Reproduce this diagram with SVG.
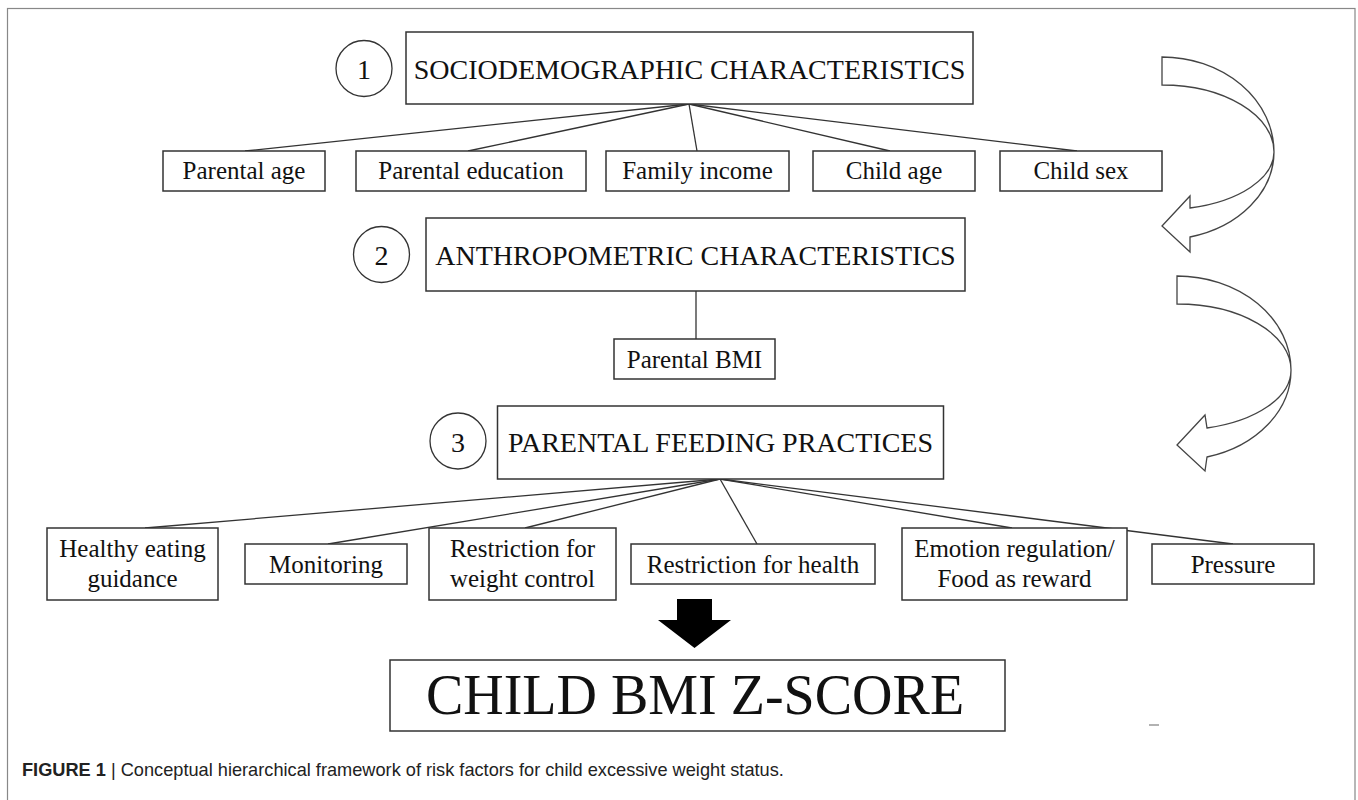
<svg xmlns="http://www.w3.org/2000/svg" width="1358" height="800" viewBox="0 0 1358 800">
<style>
.box{fill:#fff;stroke:#333;stroke-width:1.5}
.circ{fill:#fff;stroke:#333;stroke-width:1.3}
.conn line{stroke:#333;stroke-width:1.3}
.curve{fill:#fff;stroke:#444;stroke-width:1.3;stroke-linejoin:miter}
.t{font-family:"Liberation Serif","Times New Roman",serif;fill:#111;text-anchor:middle}
.big{font-size:28px}
.med{font-size:25px}
.huge{font-size:56px}
.cap{font-family:"Liberation Sans",Arial,sans-serif;font-size:18.2px;fill:#222}
</style>
<rect x="7.5" y="8.5" width="1347.5" height="795" fill="#fff" stroke="#888" stroke-width="1.2"/>
<g id="connectors" class="conn">
<line x1="689" y1="104" x2="245" y2="151"/>
<line x1="689" y1="104" x2="468" y2="151"/>
<line x1="689" y1="104" x2="697" y2="151"/>
<line x1="689" y1="104" x2="890" y2="151"/>
<line x1="689" y1="104" x2="1077" y2="151"/>
<line x1="696" y1="291" x2="696" y2="339"/>
<line x1="720" y1="479" x2="145" y2="528"/>
<line x1="720" y1="479" x2="328" y2="544"/>
<line x1="720" y1="479" x2="525" y2="528"/>
<line x1="720" y1="479" x2="757" y2="544"/>
<line x1="720" y1="479" x2="1012" y2="528"/>
<line x1="720" y1="479" x2="1233" y2="544"/>
</g>
<g id="step1">
<circle class="circ" cx="364" cy="68.5" r="28"/>
<text class="t big" x="364" y="79">1</text>
</g>
<g id="sociodemographic">
<rect class="box" x="406" y="32" width="567" height="72"/>
<text class="t big" x="689.5" y="78.5">SOCIODEMOGRAPHIC CHARACTERISTICS</text>
</g>
<g id="parental-age"><rect class="box" x="163" y="151" width="162" height="40"/><text class="t med" x="244" y="178.5">Parental age</text></g>
<g id="parental-education"><rect class="box" x="356" y="151" width="230" height="40"/><text class="t med" x="471" y="178.5">Parental education</text></g>
<g id="family-income"><rect class="box" x="606" y="151" width="183" height="40"/><text class="t med" x="697.5" y="178.5">Family income</text></g>
<g id="child-age"><rect class="box" x="813" y="151" width="162" height="40"/><text class="t med" x="894" y="178.5">Child age</text></g>
<g id="child-sex"><rect class="box" x="1000" y="151" width="162" height="40"/><text class="t med" x="1081" y="178.5">Child sex</text></g>
<g id="step2">
<circle class="circ" cx="381.5" cy="254.5" r="28"/>
<text class="t big" x="381.5" y="265">2</text>
</g>
<g id="anthropometric">
<rect class="box" x="426" y="218" width="539" height="73"/>
<text class="t big" x="695.5" y="265">ANTHROPOMETRIC CHARACTERISTICS</text>
</g>
<g id="parental-bmi"><rect class="box" x="614" y="339" width="161" height="40"/><text class="t med" x="694.5" y="368">Parental BMI</text></g>
<g id="step3">
<circle class="circ" cx="458" cy="441" r="28"/>
<text class="t big" x="458" y="451.5">3</text>
</g>
<g id="feeding-practices">
<rect class="box" x="497.5" y="406" width="446" height="73"/>
<text class="t big" x="720.5" y="452">PARENTAL FEEDING PRACTICES</text>
</g>
<g id="healthy-eating"><rect class="box" x="47" y="528" width="171" height="72"/><text class="t med" x="132.5" y="557">Healthy eating</text><text class="t med" x="132.5" y="587">guidance</text></g>
<g id="monitoring"><rect class="box" x="245" y="544" width="162" height="40"/><text class="t med" x="326" y="572.5">Monitoring</text></g>
<g id="restriction-weight"><rect class="box" x="429" y="528" width="187" height="72"/><text class="t med" x="522.5" y="557">Restriction for</text><text class="t med" x="522.5" y="587">weight control</text></g>
<g id="restriction-health"><rect class="box" x="631" y="544" width="244" height="40"/><text class="t med" x="753" y="572.5">Restriction for health</text></g>
<g id="emotion-regulation"><rect class="box" x="902" y="528" width="225" height="72"/><text class="t med" x="1014.5" y="557">Emotion regulation/</text><text class="t med" x="1014.5" y="587">Food as reward</text></g>
<g id="pressure"><rect class="box" x="1152" y="544" width="162" height="40"/><text class="t med" x="1233" y="572.5">Pressure</text></g>
<g id="down-arrow">
<polygon points="677,599 712,599 712,620 731,620 694.5,648 658,620 677,620" fill="#000"/>
</g>
<g id="child-bmi">
<rect class="box" x="390" y="660" width="615" height="71"/>
<text class="t huge" x="695" y="714">CHILD BMI Z-SCORE</text>
</g>
<g id="curved-arrow-1">
<path class="curve" d="M1162,57 A112,95 0 0 1 1274,152 A112,88 0 0 1 1190,237 L1190,252 L1162,226 L1190,196 L1190,208 A112,58 0 0 0 1274,152 A112,67 0 0 0 1162,85 Z"/>
</g>
<g id="curved-arrow-2">
<path class="curve" d="M1177,276 A114,94 0 0 1 1291,370 A114,90 0 0 1 1207,457 L1205,471 L1177,445 L1205,415 L1207,428 A114,60 0 0 0 1291,370 A114,66 0 0 0 1177,304 Z"/>
</g>
<line x1="1149" y1="725" x2="1159" y2="725" stroke="#999" stroke-width="1.5"/>
<text class="cap" x="22" y="776"><tspan font-weight="bold">FIGURE 1</tspan> | Conceptual hierarchical framework of risk factors for child excessive weight status.</text>
</svg>
